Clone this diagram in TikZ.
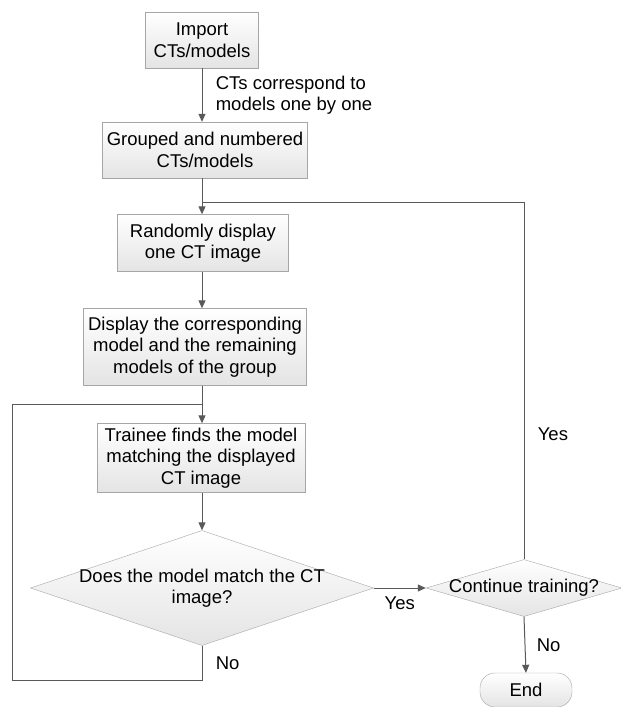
\documentclass[tikz,border=0pt]{standalone}
\usepackage{fontspec}
\setmainfont{Liberation Sans}
\usetikzlibrary{shapes.geometric,arrows.meta}
\definecolor{boxline}{HTML}{A6A6A6}
\definecolor{boxfill}{HTML}{E4E4E4}
\definecolor{flowline}{HTML}{595959}

\begin{document}
\begin{tikzpicture}[x=1pt,y=-1pt,
	font=\fontsize{18.5}{21.5}\selectfont,
	stepbox/.style={draw=boxline, top color=white, bottom color=boxfill, align=center, inner sep=2pt},
	decision/.style={diamond, draw=boxline, top color=white, bottom color=boxfill, align=center, inner xsep=0pt},
	flow/.style={draw=flowline, line width=1pt, -{Triangle[length=8pt,width=7pt]}},
	link/.style={draw=flowline, line width=1pt}]
	\useasboundingbox (0,0) rectangle (621,707);
	% process steps
	\node[stepbox, minimum width=113, minimum height=56] (import) at (202,40) {Import\\CTs/models};
	\node[stepbox, minimum width=205, minimum height=56] (group) at (205,150) {Grouped and numbered\\CTs/models};
	\node[stepbox, minimum width=171, minimum height=57] (random) at (203,243) {Randomly display\\one CT image};
	\node[stepbox, minimum width=223, minimum height=77] (show) at (195,347) {Display the corresponding\\model and the remaining\\models of the group};
	\node[stepbox, minimum width=208, minimum height=69] (find) at (201,458) {Trainee finds the model\\matching the displayed\\CT image};
	\node[decision, aspect=3, inner ysep=-8pt, minimum width=343, minimum height=115] (match) at (202,588) {Does the model match the CT\\image?};
	\node[decision, aspect=3.44, inner ysep=-5pt, minimum width=196, minimum height=57] (more) at (524,588) {Continue training?};
	\node[draw=boxline, top color=white, bottom color=boxfill, rounded corners=15pt, minimum width=92, minimum height=34] (end) at (526,690) {End};
	% loop points
	\coordinate (rejoin) at (202,202);
	\coordinate (retry) at (202,404);
	\coordinate (lowleft) at (12,680);
	% connectors
	\draw[flow] (import.south) -- node[right=10pt, align=left] (corr) {CTs correspond to\\models one by one} (import.south |- group.north);
	\draw[flow] (group.south -| import.south) -- (random.north -| import.south);
	\draw[flow] (random.south -| import.south) -- (show.north -| import.south);
	\draw[flow] (show.south -| import.south) -- (find.north -| import.south);
	\draw[flow] (find.south -| import.south) -- (match.north);
	\draw[flow] (match.east) -- node[below=5pt] (yesmatch) {Yes} (more.west);
	\draw[link] (match.south) -- node[right=10pt] (nomatch) {No} (match.south |- lowleft) -- (lowleft) |- (retry);
	\draw[link] (more.north) -- node[right=10pt, pos=0.35] (yesmore) {Yes} (more.north |- rejoin) -- (rejoin);
	\draw[flow] (more.south) -- node[right=8pt] (nomore) {No} (end.north);
\end{tikzpicture}
\end{document}
